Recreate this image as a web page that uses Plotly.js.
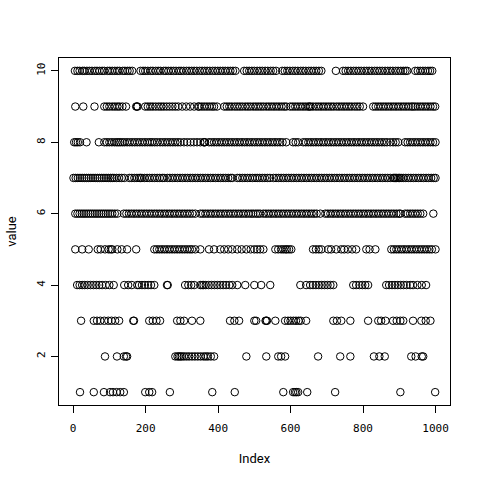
<!DOCTYPE html>
<html>
<head>
<meta charset="utf-8">
<script src="https://cdn.plot.ly/plotly-3.0.1.min.js"></script>
<style>html,body{margin:0;padding:0;background:#fff;}#chart{width:480px;height:480px;}</style>
</head>
<body>
<div id="chart"></div>
<script>
// Index positions (x) of the points at each value level (y)
const idx10 = [5,12,18,26,31,38,45,52,60,66,73,80,86,95,101,108,115,122,128,137,143,150,156,163,
  186,193,199,206,214,220,228,235,241,250,256,263,270,277,284,292,298,305,313,320,327,334,341,349,356,363,370,377,385,392,399,406,413,420,427,434,441,448,
  472,479,486,493,500,508,515,522,530,537,545,552,560,
  577,584,591,598,606,613,620,628,635,642,650,657,664,671,678,685,
  725,
  745,752,759,766,774,781,788,795,803,810,817,824,832,839,846,853,861,868,875,882,890,897,904,911,917,922,
  944,951,958,965,972,979,985,991];
const idx9 = [6,28,59,
  86,93,100,108,115,122,128,136,146,
  174,176,178,
  199,206,213,220,228,236,243,250,258,266,274,282,290,
  301,312,323,334,345,
  348,355,362,369,376,383,389,
  397,
  417,424,431,438,446,453,460,467,475,482,489,497,504,511,518,525,533,540,547,554,561,568,575,582,588,
  599,606,613,620,627,634,641,648,652,655,662,670,677,684,691,698,705,712,719,727,734,741,748,755,762,769,777,784,791,800,
  828,835,842,849,856,863,870,877,884,891,898,905,912,919,926,933,938,
  944,951,958,965,972,979,986,993,999];
const idx8 = [3,8,13,19,37,71,
  86,93,100,107,114,120,125,130,136,142,149,156,163,170,177,184,191,198,205,212,218,225,232,
  240,247,254,261,268,275,282,289,296,306,
  315,324,333,342,351,
  360,362,364,
  375,382,389,396,403,410,417,424,431,438,445,452,459,466,473,480,487,494,501,508,
  515,522,529,536,543,550,557,564,571,578,588,
  607,614,621,
  635,642,649,656,663,670,677,684,691,698,705,712,719,726,733,740,747,754,761,768,775,782,789,796,803,810,817,824,831,838,845,852,859,866,875,
  883,890,897,
  916,923,930,937,944,951,958,965,972,979,986,993,1000];
const idx7 = [1,7,13,19,25,31,37,43,49,55,61,67,73,79,85,91,97,103,108,
  113,120,127,134,141,
  155,162,169,176,182,186,190,197,204,211,218,225,232,239,246,251,
  260,267,274,281,288,295,302,309,316,323,330,337,344,351,358,365,372,379,386,393,400,407,414,421,428,435,439,
  453,460,467,474,481,488,495,502,508,
  515,522,529,536,543,
  553,560,567,574,581,588,595,602,609,616,623,630,637,644,651,658,665,672,679,686,693,700,707,714,721,728,735,742,749,756,763,770,777,784,791,798,805,812,819,826,833,840,847,854,861,868,875,
  883,886,889,893,897,901,905,
  911,918,925,932,939,946,953,960,967,974,981,988,995,1000];
const idx6 = [6,12,18,24,30,36,42,48,54,60,66,72,78,84,90,96,102,108,115,122,
  140,147,154,161,168,175,182,189,196,203,210,217,224,231,238,245,252,259,266,273,280,287,294,301,308,315,322,329,337,
  351,358,365,372,379,386,393,400,407,414,421,428,435,442,449,456,463,470,477,484,491,497,504,510,516,
  525,532,539,546,553,560,567,574,581,588,595,602,609,616,623,630,637,644,651,658,665,672,682,
  696,703,710,717,724,731,738,745,752,759,766,773,780,787,794,801,808,815,822,829,836,843,850,857,864,871,878,885,892,899,903,
  916,923,930,937,944,951,958,966,
  994];
const idx5 = [6,25,43,
  68,76,88,98,104,108,
  122,134,149,
  174,
  224,231,238,245,252,259,266,273,280,287,294,301,308,315,322,328,
  337,351,375,389,
  406,417,428,439,
  453,465,478,490,500,508,516,525,
  558,566,574,580,586,590,596,602,
  662,670,678,685,
  704,712,726,
  740,748,758,770,781,
  809,818,834,
  878,885,892,899,906,913,920,927,934,941,948,955,962,969,976,983,990,1000];
const idx4 = [11,18,25,32,40,48,56,64,72,80,90,100,112,
  141,152,162,177,
  182,190,198,207,215,224,
  259,261,
  309,318,326,334,
  351,356,360,366,374,382,390,398,406,414,422,431,439,
  453,475,500,519,544,
  627,643,
  654,662,670,678,686,694,702,710,718,
  773,781,790,798,806,814,
  864,872,880,888,896,904,912,920,930,
  938,950,962,974];
const idx3 = [22,57,66,75,
  86,97,106,116,127,
  166,168,
  210,220,230,240,
  287,296,306,
  328,351,
  433,445,458,
  500,505,531,533,535,558,
  585,593,600,608,615,622,628,643,
  718,728,740,765,814,
  842,850,862,
  883,893,903,911,
  938,961,973,986];
const idx2 = [88,121,140,146,149,
  282,288,292,296,300,306,313,320,328,336,344,352,360,366,372,380,389,
  478,533,566,574,585,676,737,765,
  830,845,860,
  933,945,962,966];
const idx1 = [19,57,85,102,110,120,130,140,
  199,210,218,267,384,446,
  580,607,612,616,621,646,
  723,903,999];

const levels = [10,9,8,7,6,5,4,3,2,1];
const levelIdx = [idx10,idx9,idx8,idx7,idx6,idx5,idx4,idx3,idx2,idx1];
const xTicks = [0,200,400,600,800,1000];
const yTicks = [2,4,6,8,10];

const xs = [], ys = [];
levels.forEach((v,i)=>{ levelIdx[i].forEach(ix=>{ xs.push(ix); ys.push(v); }); });

const trace = {
  x: xs, y: ys, type: 'scatter', mode: 'markers',
  marker: {symbol: 'circle-open', size: 7.5, color: '#000', line: {width: 1, color: '#000'}},
  hoverinfo: 'skip'
};

const tickFont = {family: 'DejaVu Sans Mono', size: 11, color: '#000'};
const layout = {
  width: 480, height: 480,
  margin: {l: 59, r: 30, t: 58, b: 75, pad: 0},
  paper_bgcolor: '#fff', plot_bgcolor: '#fff',
  showlegend: false,
  xaxis: {
    range: [-38.96, 1039.96], tickvals: xTicks, ticktext: xTicks.map(String),
    ticks: 'outside', ticklen: 7, tickwidth: 1, tickcolor: '#000', ticklabelstandoff: 6,
    showline: true, mirror: true, linecolor: '#000', linewidth: 1,
    showgrid: false, zeroline: false, tickfont: tickFont,
    title: {text: 'Index', font: {family: 'Roboto', size: 13, color: '#000'}, standoff: 19}
  },
  yaxis: {
    range: [0.64, 10.36], tickvals: yTicks, ticktext: yTicks.map(String),
    ticks: 'outside', ticklen: 7, tickwidth: 1, tickcolor: '#000', tickangle: -90, ticklabelstandoff: 2,
    showline: true, mirror: true, linecolor: '#000', linewidth: 1,
    showgrid: false, zeroline: false, tickfont: tickFont,
    title: {text: 'value', font: {family: 'Roboto', size: 13, color: '#000'}, standoff: 15}
  }
};
Plotly.newPlot('chart', [trace], layout, {staticPlot: true, displayModeBar: false});
</script>
</body>
</html>
